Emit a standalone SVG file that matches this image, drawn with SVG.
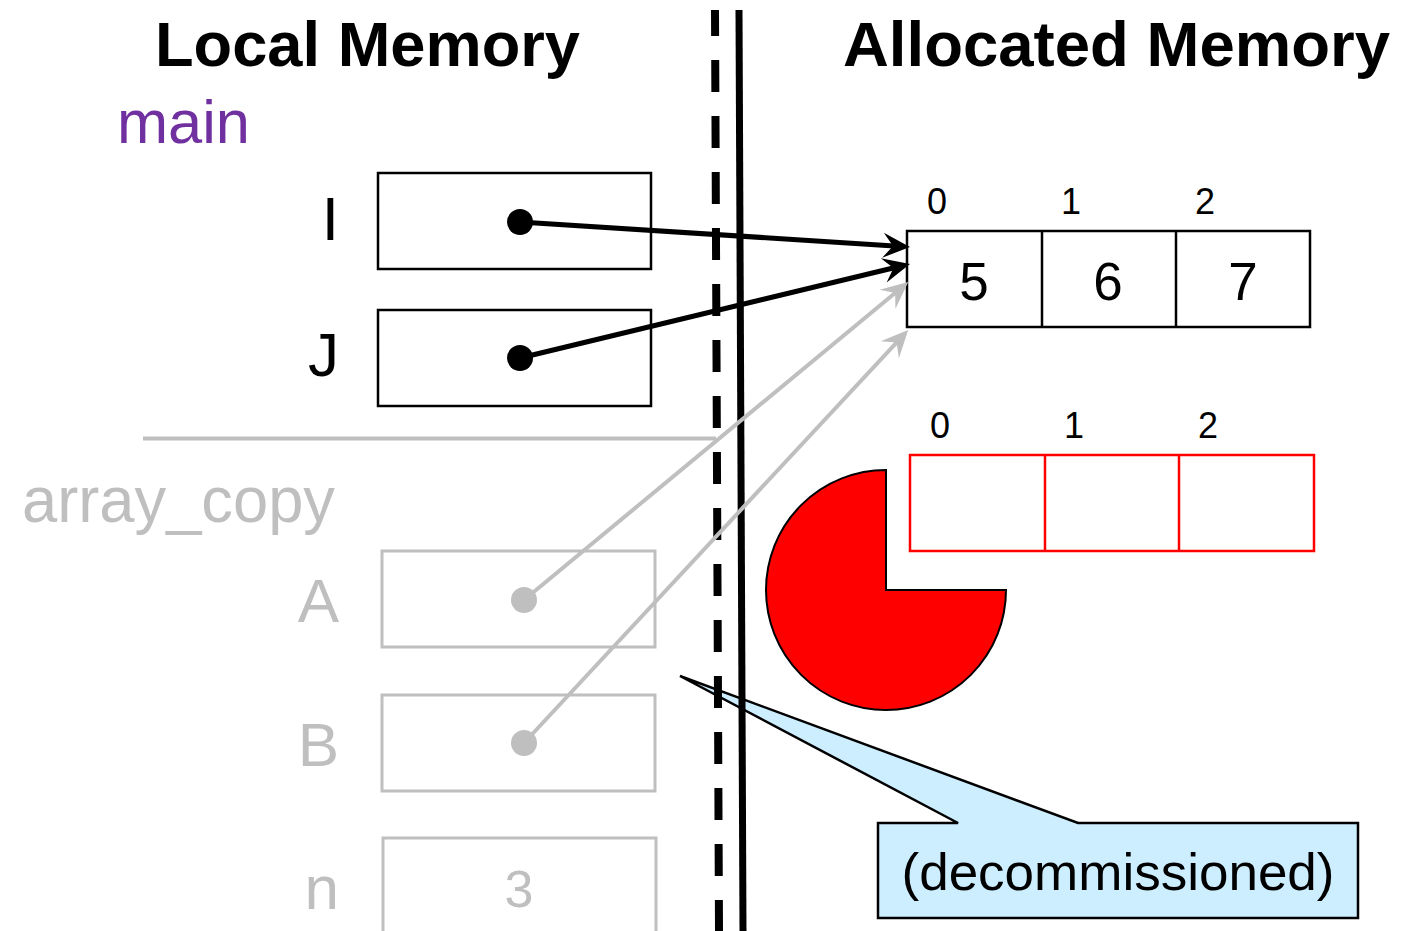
<svg xmlns="http://www.w3.org/2000/svg" width="1422" height="931" viewBox="0 0 1422 931">
<style>
text{font-family:"Liberation Sans",Arial,sans-serif}
.title{font-size:63px;font-weight:bold;fill:#000}
.lbl{font-size:62px;fill:#000;text-anchor:end}
.glbl{font-size:62px;fill:#bfbfbf;text-anchor:end}
.box{fill:#fff;stroke:#000;stroke-width:2.5}
.gbox{fill:#fff;stroke:#bfbfbf;stroke-width:3}
.rbox{fill:#fff;stroke:#ff0000;stroke-width:2.5}
.idx{font-size:36px;fill:#000;text-anchor:middle}
.val{font-size:53px;fill:#000;text-anchor:middle}
.blk{stroke:#000;stroke-width:5;fill:none}
.gry{stroke:#bfbfbf;stroke-width:4;fill:none}
</style>
<defs>
<marker id="ah" markerUnits="userSpaceOnUse" markerWidth="32" markerHeight="30" viewBox="-30 -15 32 30" refX="-12" refY="0" orient="auto">
<path d="M0,0 L-27,-12.5 L-17,0 L-27,12.5 Z" fill="#000"/>
</marker>
<marker id="ahg" markerUnits="userSpaceOnUse" markerWidth="32" markerHeight="30" viewBox="-30 -15 32 30" refX="-12" refY="0" orient="auto">
<path d="M0,0 L-27,-12.5 L-17,0 L-27,12.5 Z" fill="#bfbfbf"/>
</marker>
</defs>

<g id="titles">
<text class="title" x="155" y="66" textLength="425" lengthAdjust="spacingAndGlyphs">Local Memory</text>
<text class="title" x="843" y="66" textLength="547" lengthAdjust="spacingAndGlyphs">Allocated Memory</text>
</g>

<g id="main-frame">
<text x="117" y="143" style="font-size:62px;fill:#7030a0" textLength="133" lengthAdjust="spacingAndGlyphs">main</text>
</g>

<g id="var-I">
<text class="lbl" x="339" y="240">I</text>
<rect class="box" x="378" y="173" width="273" height="96"/>
<circle cx="520" cy="222" r="13" fill="#000"/>
</g>
<g id="var-J">
<text class="lbl" x="339" y="376">J</text>
<rect class="box" x="378" y="310" width="273" height="96"/>
<circle cx="520" cy="358" r="13" fill="#000"/>
</g>

<g id="frame-separator">
<line x1="143" y1="438.5" x2="716" y2="438.5" stroke="#bfbfbf" stroke-width="4"/>
</g>

<g id="array-copy-frame">
<text x="22" y="522" style="font-size:64px;fill:#bfbfbf" textLength="313" lengthAdjust="spacingAndGlyphs">array_copy</text>
</g>
<g id="var-A">
<text class="glbl" x="339" y="622">A</text>
<rect class="gbox" x="382" y="551" width="273" height="96"/>
<circle cx="524" cy="600" r="13" fill="#bfbfbf"/>
</g>
<g id="var-B">
<text class="glbl" x="339" y="766">B</text>
<rect class="gbox" x="382" y="695" width="273" height="96"/>
<circle cx="524" cy="743" r="13" fill="#bfbfbf"/>
</g>
<g id="var-n">
<text class="glbl" x="339" y="909">n</text>
<rect class="gbox" x="383" y="838" width="273" height="110"/>
<text x="519" y="907" style="font-size:52px;fill:#bfbfbf;text-anchor:middle">3</text>
</g>

<g id="array-567">
<text class="idx" x="937" y="214">0</text>
<text class="idx" x="1071" y="214">1</text>
<text class="idx" x="1205" y="214">2</text>
<rect class="box" x="907" y="231" width="403" height="96"/>
<line x1="1042" y1="231" x2="1042" y2="327" stroke="#000" stroke-width="2.5"/>
<line x1="1176" y1="231" x2="1176" y2="327" stroke="#000" stroke-width="2.5"/>
<text class="val" x="974" y="300">5</text>
<text class="val" x="1108" y="300">6</text>
<text class="val" x="1243" y="300">7</text>
</g>

<g id="array-empty">
<text class="idx" x="940" y="438">0</text>
<text class="idx" x="1074" y="438">1</text>
<text class="idx" x="1208" y="438">2</text>
<rect class="rbox" x="910" y="455" width="404" height="96"/>
<line x1="1045" y1="455" x2="1045" y2="551" stroke="#ff0000" stroke-width="2.5"/>
<line x1="1179" y1="455" x2="1179" y2="551" stroke="#ff0000" stroke-width="2.5"/>
</g>

<g id="pacman">
<path d="M886,590 L1006,590 A120,120 0 1 1 886,470 Z" fill="#ff0000" stroke="#000" stroke-width="2"/>
</g>

<g id="callout">
<path d="M878,823 L958,823 L680,676 L1078,823 L1358,823 L1358,918 L878,918 Z" fill="#cceeff" stroke="#000" stroke-width="2.5" stroke-linejoin="miter"/>
<text x="1118" y="890" style="font-size:52px;fill:#000;text-anchor:middle" textLength="433" lengthAdjust="spacingAndGlyphs">(decommissioned)</text>
</g>

<g id="dividers">
<line x1="715" y1="10" x2="719" y2="931" stroke="#000" stroke-width="8" stroke-dasharray="32 24" stroke-dashoffset="6"/>
<line x1="739" y1="10" x2="743" y2="931" stroke="#000" stroke-width="7"/>
</g>

<g id="connectors">
<line class="gry" x1="524" y1="600" x2="899" y2="289.7" marker-end="url(#ahg)"/>
<line class="gry" x1="524" y1="743" x2="900" y2="338.8" marker-end="url(#ahg)"/>
<line class="blk" x1="520" y1="222" x2="898" y2="246.2" marker-end="url(#ah)"/>
<line class="blk" x1="520" y1="358" x2="898.3" y2="266.8" marker-end="url(#ah)"/>
</g>
</svg>
